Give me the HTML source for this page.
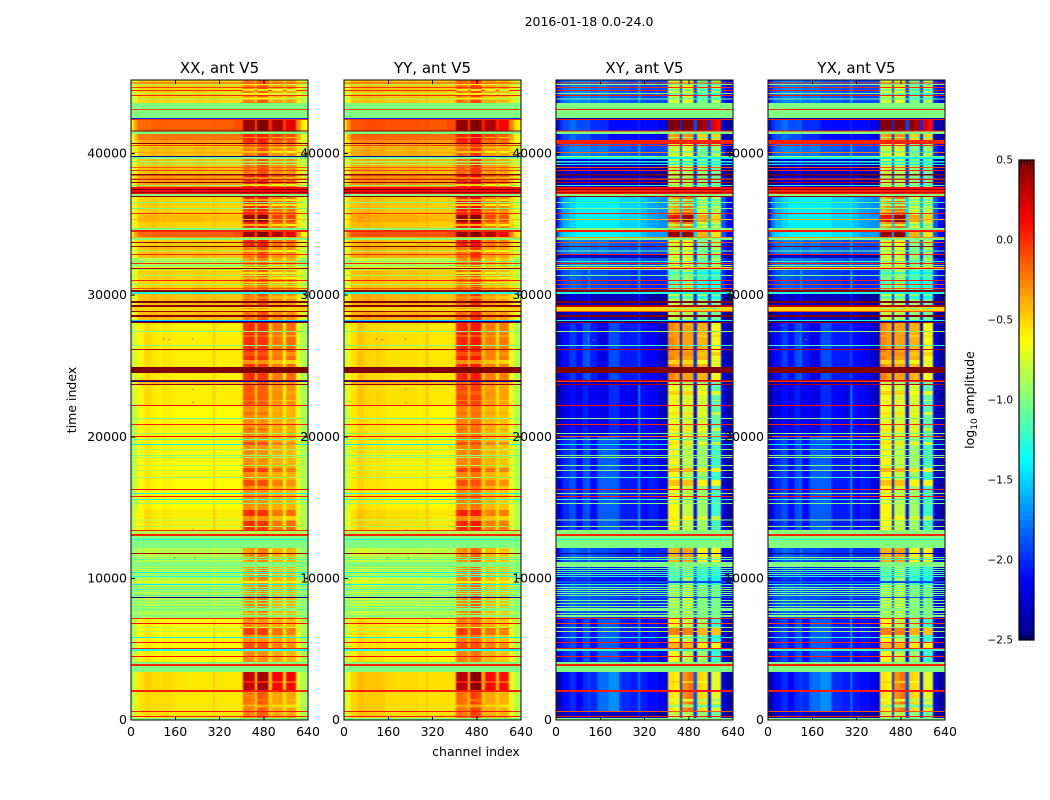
<!DOCTYPE html>
<html lang="en">
<head>
<meta charset="utf-8">
<title>2016-01-18 0.0-24.0</title>
<style>
html,body{margin:0;padding:0;background:#fff;width:1050px;height:800px;overflow:hidden}
svg{display:block}
text{font-family:"DejaVu Sans","Liberation Sans",sans-serif;fill:#000}
</style>
</head>
<body>
<svg id="figure" xmlns="http://www.w3.org/2000/svg" width="1050" height="800" viewBox="0 0 1050 800">
  <defs>
    <filter id="soften" x="-5%" y="0%" width="110%" height="100%" color-interpolation-filters="sRGB">
      <feGaussianBlur stdDeviation="0.9 0"/>
    </filter>
    <clipPath id="clip-0"><rect x="131" y="80" width="177" height="640"/></clipPath>
    <clipPath id="clip-1"><rect x="344" y="80" width="177" height="640"/></clipPath>
    <clipPath id="clip-2"><rect x="556" y="80" width="177" height="640"/></clipPath>
    <clipPath id="clip-3"><rect x="768" y="80" width="177" height="640"/></clipPath>
  </defs>
  <rect width="1050" height="800" fill="#fff"/>
  <g id="panels"></g>
  <g id="colorbar"></g>
  <g id="labels"></g>
  <text x="589" y="26" font-size="12.5" text-anchor="middle">2016-01-18 0.0-24.0</text>
  <text x="476" y="756" font-size="12.5" text-anchor="middle">channel index</text>
  <text transform="translate(76 400) rotate(-90)" font-size="12.5" text-anchor="middle">time index</text>
  <text transform="translate(974 400) rotate(-90)" font-size="12.5" text-anchor="middle">log<tspan font-size="9" dy="3">10</tspan><tspan dy="-3"> amplitude</tspan></text>
</svg>
<script>
// ---- chart data (log10 amplitude, channel and time indices) ----
const panelTitles = ['XX, ant V5', 'YY, ant V5', 'XY, ant V5', 'YX, ant V5'];
const xTicks = [0, 160, 320, 480, 640];
const yTicks = [0, 10000, 20000, 30000, 40000];
const colorTicks = [0.5, 0.0, -0.5, -1.0, -1.5, -2.0, -2.5];
const channelMax = 640;
const timeMax = 45200;
const colorMin = -2.5;
const colorMax = 0.5;
const channelEdges = [0,10,24,48,72,96,117,121,150,190,230,270,298,303,330,370,405,428,448,455,478,498,510,530,550,560,580,597,615,640];

// spectra per channel column: co-polar
const warmTop = [-.78,-.68,-.5,-.5,-.47,-.5,-.47,-.48,-.5,-.5,-.48,-.5,-.42,-.5,-.5,-.5,-.22,-.28,-.5,-.15,-.15,-.5,-.35,-.35,-.52,-.35,-.35,-.58,-.82];
const warm = [-.75,-.65,-.45,-.45,-.4,-.45,-.4,-.42,-.45,-.45,-.42,-.45,-.35,-.45,-.45,-.45,-.2,-.25,-.45,-.1,-.1,-.45,-.3,-.3,-.5,-.3,-.3,-.55,-.8];
const warm2 = [-.7,-.55,-.35,-.35,-.32,-.35,-.3,-.32,-.35,-.35,-.32,-.35,-.3,-.35,-.35,-.35,0,.02,-.35,.05,.05,-.35,-.15,-.15,-.4,-.15,-.15,-.5,-.75];
const warm3 = [-.72,-.6,-.5,-.48,-.45,-.5,-.45,-.48,-.5,-.5,-.5,-.5,-.4,-.5,-.5,-.5,0,.02,-.42,.05,.05,-.42,-.2,-.2,-.48,-.2,-.2,-.55,-.78];
const hot = [-.55,-.35,-.18,-.18,-.15,-.15,-.12,-.15,-.15,-.15,-.15,-.15,-.1,-.15,-.15,-.1,.42,.42,-.1,.5,.5,0,.38,.38,-.05,.2,.2,-.3,-.6];
const mid = [-.65,-.45,-.25,-.25,-.22,-.22,-.2,-.22,-.22,-.22,-.22,-.22,-.18,-.22,-.22,-.22,.02,.02,-.25,.05,.05,-.2,-.05,-.05,-.25,-.1,-.1,-.4,-.7];
const quiet = [-.82,-.72,-.6,-.5,-.56,-.58,-.5,-.56,-.58,-.58,-.58,-.58,-.42,-.58,-.58,-.58,-.02,.02,-.5,-.02,-.02,-.5,-.22,-.22,-.6,-.18,-.18,-.72,-.88];
const quiet2 = [-.82,-.72,-.6,-.5,-.56,-.58,-.5,-.56,-.58,-.58,-.58,-.58,-.42,-.58,-.58,-.58,-.12,-.12,-.5,-.15,-.15,-.5,-.3,-.3,-.6,-.3,-.3,-.72,-.88];
const hotCols = [-.72,-.6,-.42,-.38,-.4,-.42,-.38,-.42,-.42,-.42,-.42,-.45,-.35,-.45,-.45,-.45,.42,.4,-.35,.48,.48,-.35,-.05,-.05,-.45,-.05,-.05,-.6,-.8];
const pale = [-.88,-.78,-.63,-.55,-.6,-.62,-.55,-.6,-.62,-.62,-.62,-.62,-.45,-.62,-.62,-.62,-.28,-.3,-.55,-.3,-.3,-.55,-.38,-.38,-.6,-.4,-.4,-.72,-.88];
const greenWarm = [-.95,-.9,-.85,-.8,-.82,-.85,-.8,-.85,-.85,-.85,-.85,-.85,-.7,-.85,-.85,-.85,-.35,-.3,-.7,-.25,-.25,-.75,-.4,-.4,-.75,-.4,-.4,-.85,-.95];
const dark = [-.82,-.72,-.56,-.48,-.52,-.52,-.48,-.52,-.55,-.56,-.56,-.56,-.45,-.56,-.56,-.56,.32,.28,-.5,.38,.4,-.45,.15,.12,-.5,.15,.12,-.72,-.88];
const warmLow = [-.82,-.72,-.56,-.5,-.53,-.53,-.5,-.53,-.56,-.56,-.56,-.56,-.45,-.56,-.56,-.56,-.22,-.27,-.5,-.12,-.17,-.5,-.35,-.35,-.55,-.35,-.35,-.72,-.88];

// spectra per channel column: cross-polar
const xBlue = [-2.1,-1.9,-1.8,-1.72,-1.72,-1.75,-1.6,-1.8,-1.75,-1.85,-1.85,-1.9,-1.5,-1.9,-1.9,-1.9,-.75,-.75,-1.9,-.7,-.7,-1.9,-1,-1,-1.9,-.85,-.85,-2,-2.2];
const xHot = [-2.3,-2,-1.9,-1.8,-1.9,-1.9,-1.8,-2,-2,-2.1,-2.1,-2.1,-2,-2.1,-2.1,-2.2,.5,.5,-2,.5,.5,-1.9,.45,.35,-2,.2,.1,-2.3,-2.4];
const xMid = [-2.3,-2,-1.9,-1.8,-1.9,-1.9,-1.8,-2,-2,-2.1,-2.1,-2.1,-2,-2.1,-2.1,-2.2,-.35,-.3,-2,-.3,-.3,-1.9,-.5,-.5,-2,-.5,-.5,-2.3,-2.4];
const xCyan = [-2.1,-1.8,-1.6,-1.5,-1.42,-1.42,-1.4,-1.42,-1.42,-1.42,-1.5,-1.5,-1.4,-1.55,-1.65,-1.7,-.4,-.3,-1.6,-.2,-.2,-1.5,-.75,-.75,-1.6,-.8,-.8,-1.85,-2.15];
const xCols = [-2.1,-1.8,-1.6,-1.5,-1.42,-1.42,-1.4,-1.42,-1.42,-1.42,-1.5,-1.5,-1.4,-1.55,-1.65,-1.7,.05,.1,-1.6,.4,.4,-1.5,-.35,-.35,-1.6,-.5,-.5,-1.85,-2.15];
const xHot2 = [-1.9,-1.6,-1.5,-1.45,-1.4,-1.4,-1.4,-1.4,-1.4,-1.4,-1.45,-1.45,-1.4,-1.55,-1.65,-1.65,.4,.45,-1.6,.45,.45,-1.5,-.4,-.4,-1.6,-.55,-.55,-1.85,-2.15];
const xDeep = [-2.5,-2.4,-2.3,-2.2,-2.3,-2.2,-2,-2.3,-2.3,-2.3,-2.3,-2.3,-2,-2.3,-2.4,-2.4,-.8,-.8,-2,-.85,-.85,-2,-.95,-.95,-2,-1.05,-1.05,-2.3,-2.45];
const xPatch = [-2.3,-2.15,-2.05,-1.95,-2,-2,-1.7,-2.05,-2.05,-2.1,-2.1,-2.15,-1.8,-2.15,-2.2,-2.2,-1.1,-1.05,-1.8,-.9,-.9,-1.8,-1.2,-1.2,-1.8,-1.3,-1.3,-2.2,-2.35];
const xSpeck = [-2.2,-2,-1.9,-1.8,-1.85,-1.9,-1.5,-1.9,-1.9,-1.95,-1.95,-2,-1.5,-2,-2,-2,-1.1,-1,-1.6,-.85,-.85,-1.6,-1.2,-1.2,-1.6,-1.2,-1.2,-2,-2.2];
const xQuiet = [-2.4,-2.2,-2.1,-1.95,-2.1,-1.9,-1.7,-2.05,-2.2,-1.9,-2.05,-2.05,-1.85,-2.1,-2.15,-2.3,-.25,-.35,-2.2,-.35,-.35,-2,-.4,-.4,-2.2,-.65,-.65,-2.2,-2.4];
const xLow = [-2.45,-2.3,-2.2,-2.1,-2.2,-2.05,-2.35,-2.15,-2.2,-2,-2.15,-2.2,-1.6,-2.1,-2.15,-2.3,-.65,-.7,-2.2,-.75,-.75,-2.2,-.75,-.75,-2.2,-1.1,-1.1,-2.2,-2.4];
const xBand = [-2.3,-2.15,-2,-1.9,-2.1,-1.9,-1.7,-2.1,-1.85,-1.85,-2.05,-2.05,-1.55,-2.1,-2.05,-2.2,-.6,-.65,-2.1,-.8,-.8,-2.1,-.9,-.9,-2.1,-1.2,-1.2,-2.2,-2.4];
const xMix = [-2.2,-2,-1.9,-1.8,-1.85,-1.9,-1.6,-1.9,-1.9,-1.95,-2,-2,-1.6,-2,-2,-2,-.8,-.8,-1.9,-.75,-.75,-1.9,-.95,-.95,-1.9,-1,-1,-2.1,-2.3];
const xWarmMix = [-2.2,-2,-1.9,-1.8,-1.85,-1.9,-1.6,-1.9,-1.9,-1.95,-2,-2,-1.6,-2,-2,-2,-.4,-.4,-1.9,-.35,-.35,-1.9,-.6,-.6,-1.9,-.6,-.6,-2.1,-2.3];
const xDark = [-2.4,-2.3,-2.1,-2,-2.15,-2,-1.85,-2,-1.8,-1.7,-2,-2.05,-1.7,-2.05,-2.1,-2.2,-.55,-.6,-2,-.3,-.2,-1.9,-.5,-.55,-2.1,-.7,-.7,-2.2,-2.4];

// YY differs from XX by a small per-column amount
const yyOffsets = [.03,.05,.06,.06,.06,.06,.05,.05,.04,.04,.04,.03,.02,.02,.02,.02,.03,.03,.05,.08,.08,.05,-.02,-.02,.05,-.05,-.05,.04,.03];

// time rows, drawn in order: [time low, time high, co-polar, cross-polar]
// a row value is either a column spectrum or one flat level
const timeRows = [
[43560,45200,warmTop,xBlue],[44970,45040,-.05,0],[44830,44900,-.85,-1],[44620,44690,-.05,0],[44410,44480,.02,.05],[44200,44270,-.85,-1],[44060,44130,.02,.05],[43840,43910,-.9,-1],
[42500,43560,-1,-1],[43070,43140,-.1,0],[42430,42500,-2,-2.4],[42360,42430,0,.05],
[41650,42360,hot,xHot],[41580,41650,.5,.05],[41370,41580,-1,-1],[40950,41370,mid,xMid],[40740,40950,warm2,.02],[40670,40740,.5,.05],
[39820,40670,warm,xBlue],[40530,40600,-.05,.02],[40040,40110,-.35,-.2],[39750,39820,-2.4,-.9],
[39610,39750,-1,-1.4],[39470,39610,warm,xDeep],[39390,39470,-.9,-1.3],[39250,39390,warm,xDeep],[39180,39250,-.9,-1.4],[39040,39180,warm,xDeep],[38970,39040,-.15,-.1],[38830,38970,warm,xDeep],
[38760,38830,-.05,.02],[38550,38760,warm,xDeep],[38470,38550,.45,.5],[38260,38470,warm2,xDeep],[38190,38260,-.1,-.1],[38120,38190,.45,.45],[37980,38120,warm2,xDeep],[37910,37980,.45,.3],
[37630,37910,warm2,xDeep],[37700,37770,-1,-1.2],[37490,37630,.1,.1],[37420,37490,.5,.5],[37280,37420,.15,.03],[37210,37280,.4,.3],[37140,37210,.1,.05],[36990,37140,-1,-1],[36920,36990,.5,.4],
[34740,36920,warm3,xCyan],[36500,36570,-1,-1.1],[36080,36150,-1,-1],[35720,35790,0,.02],[35160,35650,hotCols,xCols],[35300,35370,-.4,-.4],
[34590,34740,-1,-1],[34450,34590,.02,.05],[34100,34450,hot,xHot2],[34030,34100,-.4,-.3],[33890,34030,-1,-1],[33460,33890,warm3,xBlue],[33680,33750,.4,-.1],[33390,33460,.5,.5],
[32900,33390,warm,xBlue],[33100,33170,-.9,-1],[32830,32900,.02,.05],[32620,32830,warm,xDeep],[31980,32620,greenWarm,xBlue],[32340,32410,-1,-1.2],[32200,32260,.02,.05],[32050,32120,-1,-1],
[31910,31980,-.6,-.5],[31840,31910,.45,.2],[31770,31840,-.9,-1],[30360,31770,warmTop,xSpeck],[31350,31420,-.9,-1],[30990,31060,.02,.05],[30710,30780,-.9,-.05],[30430,30500,-.1,-.1],
[30220,30360,.45,.45],[30080,30220,-1.3,-1.3],[29580,30080,warm,xDeep],[29440,29580,.5,.5],[29300,29440,warm,xDeep],[29160,29300,.45,.35],[28880,29160,-.5,-.5],[28800,28880,.4,-.1],
[28590,28800,warm,xDeep],[28450,28590,.45,.5],[28240,28450,warm,xDeep],[28170,28240,-1.5,-1.3],[28100,28170,-2.4,-2.4],[28030,28100,.45,.45],
[24920,28030,quiet,xQuiet],[27390,27460,-1,-.95],[26400,26480,-1,-1.2],[26120,26190,.35,.35],
[24500,24920,.5,.5],[24000,24500,quiet,xQuiet],[23930,24000,.45,.3],[23860,23930,-2.4,-.05],[23720,23860,warm,xDeep],[23650,23720,.4,.35],
[22240,23650,quiet2,xLow],[22170,22240,.1,.1],[20900,22170,pale,xLow],[21250,21320,-1,-1],[20830,20900,.05,.02],[20050,20830,pale,xLow],[20190,20260,-.95,-1],[19980,20050,.1,-.15],
[14830,19980,pale,xBand],[19770,19840,-1.1,-1.1],[19420,19490,-1.4,-1.4],[19060,19130,-.9,-1],[18640,18710,-1,-1],[18500,18570,-.9,-.9],[17930,18000,-.9,-1],[17580,17650,-.85,-.9],[17090,17160,-.9,-1.2],[16240,16310,.1,.05],[15950,16030,-1.3,-.95],[15740,15810,.05,.02],[15530,15600,-1.3,-1.2],[15250,15320,-1,-1],
[13410,14830,quiet,xBand],[14090,14160,-.85,-1],[13620,13690,-.9,-.95],
[13340,13410,.02,-.9],[13130,13340,-.85,-1],[12990,13130,.02,.02],[12140,12990,-1,-1],[12710,12780,-1.3,-1.3],
[11790,12140,greenWarm,xWarmMix],[11720,11790,.4,-2.45],[11150,11720,greenWarm,xWarmMix],[11440,11510,-1,-.95],[11300,11370,-1.1,-1.2],[10800,11150,-1,-1],
[9600,10800,greenWarm,xPatch],[10660,10730,-1,-1.1],[10520,10590,-.9,-1.1],[10380,10450,-1.4,-1.2],[10240,10310,-1,-1.1],[10100,10170,-1.3,-1.3],[9670,9810,-.7,-1.9],
[8680,9600,greenWarm,xMix],[9530,9600,-1.4,-1.2],[9320,9390,-1,-1.1],[9180,9250,-1.2,-1],[9040,9110,-1,-1.1],[8890,8960,-.9,-1],[8750,8820,-1.2,-1.1],
[8610,8680,-2.45,-1.9],[7200,8610,greenWarm,xMix],[8400,8470,-1,-1],[8190,8260,-1,-1.05],[7980,8050,-1.1,-1],[7700,7910,-1,-1],[7480,7550,-.9,-1.05],[7270,7410,-1,-1],
[7130,7200,.02,.05],[6850,7130,pale,xBand],[6780,6850,.1,-.05],[5860,6780,pale,xBand],[6500,6570,-.8,-1],[6220,6290,-.85,-.9],[5790,5860,-1.4,-1.2],[5510,5790,pale,xBand],[5440,5510,.1,.05],[5080,5440,pale,xBand],[5010,5080,.05,.02],[4870,5010,-1.3,-1.2],[4520,4870,pale,xBand],[4450,4520,.08,.02],[4090,4450,pale,xBand],[3950,4090,-1,-1],
[3810,3950,.02,.05],[3390,3810,-1,-1],[2120,3390,dark,xDark],[1980,2120,.03,.05],[640,1980,warmLow,xDark],[560,640,.05,-.1],[280,560,warmLow,xDeep],[210,280,.03,.05],[140,210,warmLow,xDeep],[0,140,-1,-1]
];

// band-only texture in the bright channel groups: [time low, time high, co-polar, cross-polar]
const bandRows = [
[44830,44900,-.6,-1.05],[44410,44550,-.55,-1.05],[44130,44270,-.6,-1.05],[43840,43980,-.6,-1.05],
[41090,41160,-.3,-.9],[40380,40450,-.5,-1],[40040,40170,-.45,-1],[38260,38330,-.5,-1],[37700,37840,-.5,-.9],
[36640,36780,-.35,-.9],[36290,36430,-.5,-.9],[35860,35930,-.3,-.8],[34880,35020,-.4,-.8],
[33040,33180,-.45,-.9],[31490,31630,-.55,-1.2],[31140,31280,-.4,-1],[30850,30920,-.5,-1.2],[30570,30640,-.35,-1.1],
[29720,29930,-.25,-1.1],[29020,29090,-.3,-1],[27040,27180,-.15,-.35],[25700,25980,-.1,-.3],[25130,25420,-.3,-.5],
[22950,23230,-.15,-.5],[22520,22590,-.25,-.6],[21530,21750,-.2,-.55],[20400,20610,-.2,-.55],
[19420,19630,-.1,-.55],[17510,17790,-.05,-.4],[16520,16940,-.1,-.45],[14120,14400,-.3,-.6],
[6000,6490,-.05,-.25],[5090,5430,-.1,-.4],[1300,1500,-.2,-.7],[900,1100,-.35,-.9],[2600,2750,.05,-.5]
];
const bandColumns = [16, 17, 19, 20, 22, 23, 25, 26];
const bandDrop = [0, 0, 0, 0, -.15, -.15, -.2, -.2];

// isolated outlier samples: time, channel, co-polar level, cross-polar level
const spotTimes = [26950,26950,26900,23400,22450,13500,11480,11480];
const spotChannels = [220,115,135,222,222,222,155,230];
const spotLevels = [.1,.2,.2,.05,.05,-.1,.1,.1];
const spotCross = [.1,-.3,-.3,.1,.1,-.2,-.2,-.3];

// ---- axes ----
const SVGNS = 'http://www.w3.org/2000/svg';
const panelLeft = [131, 344, 556, 768];
const panelWidth = 177;
const plotTop = 80;
const plotHeight = 640;
const xScale = (panel, channel) => panelLeft[panel] + channel / channelMax * panelWidth;
const yScale = time => plotTop + plotHeight - time / timeMax * plotHeight;

function jet(value) {
  const t = Math.min(1, Math.max(0, (value - colorMin) / (colorMax - colorMin)));
  const clamp = v => Math.round(255 * Math.min(1, Math.max(0, v)));
  const r = clamp(Math.min(4 * t - 1.5, -4 * t + 4.5));
  const g = clamp(Math.min(4 * t - 0.5, -4 * t + 3.5));
  const b = clamp(Math.min(4 * t + 0.5, -4 * t + 2.5));
  return 'rgb(' + r + ',' + g + ',' + b + ')';
}

function svgEl(tag, parent, attrs) {
  const el = document.createElementNS(SVGNS, tag);
  for (const key in attrs) el.setAttribute(key, attrs[key]);
  parent.appendChild(el);
  return el;
}

function rowLevel(spec, panel, col) {
  let level = Array.isArray(spec) ? spec[col] : spec;
  if (panel === 1 && Array.isArray(spec)) level += yyOffsets[col];
  return level;
}

const panelsGroup = document.getElementById('panels');
const labelsGroup = document.getElementById('labels');

panelTitles.forEach(function (title, p) {
  const group = svgEl('g', panelsGroup, {});
  
  

  const clip = svgEl('g', group, { 'clip-path': 'url(#clip-' + p + ')' });
  
  
  const heat = svgEl('g', clip, { filter: 'url(#soften)', 'shape-rendering': 'crispEdges' });
  
  

  timeRows.forEach(function (row) {
    const spec = p < 2 ? row[2] : row[3];
    const y0 = yScale(row[1]);
    const h = yScale(row[0]) - y0;
    if (!Array.isArray(spec)) {
      const cell = svgEl('rect', heat, {
        x: xScale(p, 0), y: y0, width: panelWidth, height: h, fill: jet(spec)
      });
      
      
      return;
    }
    for (let c = 0; c < channelEdges.length - 1; c++) {
      const x0 = xScale(p, channelEdges[c]);
      const cell = svgEl('rect', heat, {
        x: x0, y: y0, width: xScale(p, channelEdges[c + 1]) - x0, height: h,
        fill: jet(rowLevel(spec, p, c))
      });
      
      
    }
  });

  bandRows.forEach(function (row) {
    const level = p < 2 ? row[2] : row[3];
    const y0 = yScale(row[1]);
    bandColumns.forEach(function (c, i) {
      const x0 = xScale(p, channelEdges[c]);
      const cell = svgEl('rect', heat, {
        x: x0, y: y0, width: xScale(p, channelEdges[c + 1]) - x0, height: yScale(row[0]) - y0,
        fill: jet(level + bandDrop[i])
      });
      
      
    });
  });

  spotTimes.forEach(function (time, i) {
    const spot = svgEl('rect', group, {
      x: xScale(p, spotChannels[i]), y: yScale(time), width: 1, height: 1,
      fill: jet(p < 2 ? spotLevels[i] : spotCross[i])
    });
    
    
  });

  const frame = svgEl('rect', group, {
    x: panelLeft[p], y: plotTop, width: panelWidth, height: plotHeight,
    fill: 'none', stroke: '#000', 'stroke-width': 1.2, 'shape-rendering': 'crispEdges'
  });
  
  

  xTicks.forEach(function (tick) {
    const x = xScale(p, tick);
    [[plotTop, plotTop + 4], [plotTop + plotHeight, plotTop + plotHeight - 4]].forEach(function (ends) {
      const mark = svgEl('line', group, { x1: x, x2: x, y1: ends[0], y2: ends[1], stroke: '#000', 'shape-rendering': 'crispEdges' });
      
      
    });
    const label = svgEl('text', labelsGroup, { x: x, y: 736, 'font-size': 12.5, 'text-anchor': 'middle' });
    
    
    label.textContent = String(tick);
  });

  yTicks.forEach(function (tick) {
    const y = yScale(tick);
    [[panelLeft[p], panelLeft[p] + 4], [panelLeft[p] + panelWidth, panelLeft[p] + panelWidth - 4]].forEach(function (ends) {
      const mark = svgEl('line', group, { x1: ends[0], x2: ends[1], y1: y, y2: y, stroke: '#000', 'shape-rendering': 'crispEdges' });
      
      
    });
    const label = svgEl('text', labelsGroup, { x: panelLeft[p] - 4, y: y + 4, 'font-size': 12.5, 'text-anchor': 'end' });
    
    
    label.textContent = String(tick);
  });

  const heading = svgEl('text', labelsGroup, {
    x: panelLeft[p] + panelWidth / 2, y: 73, 'font-size': 15, 'text-anchor': 'middle'
  });
  
  
  heading.textContent = title;
});

// ---- colorbar ----
const cbGroup = document.getElementById('colorbar');
const cbLeft = 1019;
const cbWidth = 15;
const cbTop = 160;
const cbHeight = 480;
const cbScale = level => cbTop + (colorMax - level) / (colorMax - colorMin) * cbHeight;
const cbSteps = 120;
for (let i = 0; i < cbSteps; i++) {
  const level = colorMax - (i + 0.5) / cbSteps * (colorMax - colorMin);
  const step = svgEl('rect', cbGroup, {
    x: cbLeft, y: cbTop + i * cbHeight / cbSteps, width: cbWidth, height: cbHeight / cbSteps + 0.6,
    fill: jet(level), 'shape-rendering': 'crispEdges'
  });
  
  
}
const cbFrame = svgEl('rect', cbGroup, {
  x: cbLeft, y: cbTop, width: cbWidth, height: cbHeight, fill: 'none', stroke: '#000', 'stroke-width': 1.2
});


colorTicks.forEach(function (tick) {
  const label = svgEl('text', cbGroup, {
    x: cbLeft - 6, y: cbScale(tick) + 3.5, 'font-size': 10.5, 'text-anchor': 'end'
  });
  
  
  label.textContent = tick.toFixed(1).replace('-', '\u2212');
});
[1021.5, 1024.5, 1027.5, 1030.5].forEach(function (x) {
  [[cbTop, cbTop + 5], [cbTop + cbHeight, cbTop + cbHeight - 5]].forEach(function (ends) {
    const mark = svgEl('line', cbGroup, { x1: x, x2: x, y1: ends[0], y2: ends[1], stroke: '#000', 'stroke-width': 0.8 });
    
    
  });
});
const cbDots = svgEl('text', cbGroup, { x: 1017, y: 647, 'font-size': 5, 'letter-spacing': 1.4 });


cbDots.setAttribute('style', 'fill:#777');
cbDots.textContent = '......';
</script>
</body>
</html>
